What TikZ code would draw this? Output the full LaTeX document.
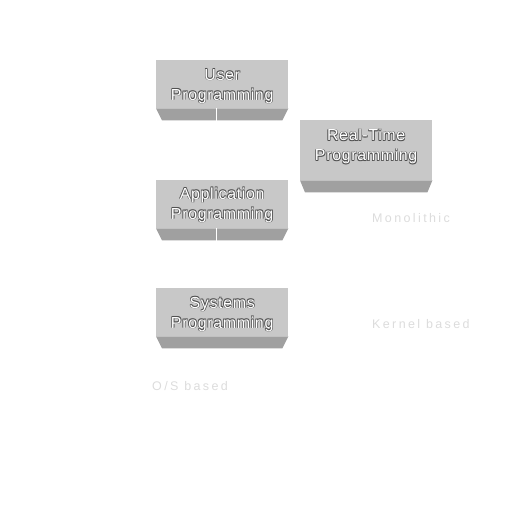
\documentclass[tikz,border=0pt]{standalone}
\usepackage{fontspec}
\setmainfont{Liberation Sans}
\usetikzlibrary{calc}
\definecolor{boxgray}{HTML}{C8C8C8}
\definecolor{bevgray}{HTML}{A0A0A0}
\definecolor{shgray}{HTML}{505050}
\definecolor{lblgray}{HTML}{DCDCDC}
\tikzset{
  pbox/.style={rectangle, fill=boxgray, inner sep=0pt, minimum width=132pt, anchor=north west},
  bevel/.style={fill=bevgray},
  btext/.style={align=center, inner sep=0pt, text=white, font=\fontsize{16}{20}\selectfont\addfontfeatures{LetterSpace=4}},
  bshadow/.style={btext, text=shgray},
  slabel/.style={anchor=west, inner sep=0pt, text=lblgray, font=\fontsize{12.5}{14}\selectfont\addfontfeatures{LetterSpace=19}},
  wline/.style={draw=white, line width=0.8pt}
}
\newcommand\boxtext[3]{%
  \foreach \dx/\dy in {0.6/0.6,-0.6/0.6,0.6/-0.6,-0.6/-0.6}{\node[bshadow] at ($(#1)+(\dx,\dy)$) {#3};}
  \node[btext] (#2) at (#1) {#3};}
\begin{document}
\begin{tikzpicture}[x=1pt,y=-1pt]
\useasboundingbox (0,0) rectangle (529,517);
% boxes
\node[pbox, minimum height=48pt] (user) at (156,60) {};
\node[pbox, minimum height=60pt] (rt) at (300,120) {};
\node[pbox, minimum height=48pt] (app) at (156,180) {};
\node[pbox, minimum height=48pt] (sys) at (156,288) {};
% bevels
\foreach \b/\s in {user/6,app/6,sys/6,rt/5}{
  \fill[bevel] (\b.south west) -- (\b.south east) -- ($(\b.south east)+(-\s,12)$) -- ($(\b.south west)+(\s,12)$) -- cycle;}
% connectors
\coordinate (ua) at ($(user.south west)+(60,0)$);
\coordinate (aa) at ($(app.north west)+(60,0)$);
\coordinate (ab) at ($(app.south west)+(60,0)$);
\coordinate (sa) at ($(sys.north west)+(60,0)$);
\draw[wline] (ua) -- (aa);
\draw[wline] (ab) -- (sa);
% texts
\coordinate (uc) at ($(user.center)+(0,2)$);
\coordinate (rc) at ($(rt.center)+(0,-3.5)$);
\coordinate (ac) at ($(app.center)+(0,1)$);
\coordinate (sc) at ($(sys.center)+(0,2)$);
\boxtext{uc}{ut}{User\\Programming}
\boxtext{rc}{rtt}{Real-Time\\Programming}
\boxtext{ac}{at}{Application\\Programming}
\boxtext{sc}{st}{Systems\\Programming}
% labels
\node[slabel] (mono) at (372,218) {Monolithic};
\node[slabel] (kern) at (372,324) {Kernel based};
\node[slabel] (os) at (152,386) {O/S based};
\end{tikzpicture}
\end{document}
